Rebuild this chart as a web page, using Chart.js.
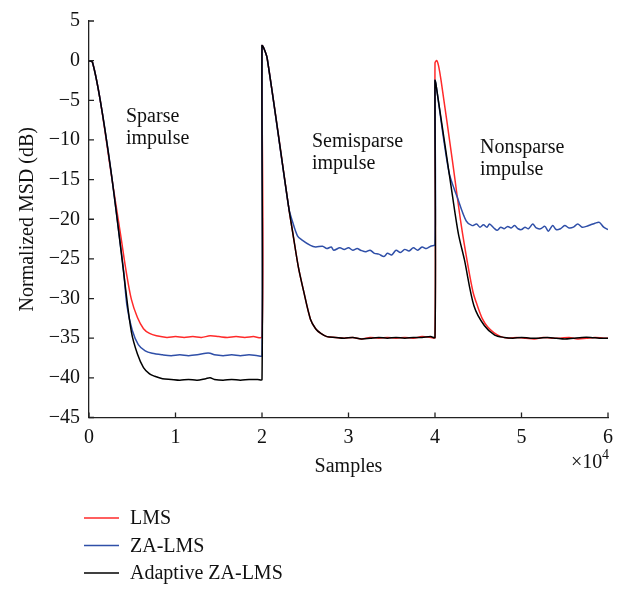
<!DOCTYPE html>
<html>
<head>
<meta charset="utf-8">
<script src="https://cdn.jsdelivr.net/npm/chart.js@4/dist/chart.umd.min.js"></script>
<style>
  body { margin: 0; background: #fff; }
  canvas { display: block; }
</style>
</head>
<body>
<canvas id="msd-chart" width="624" height="590"></canvas>
<script>
// samples are in units of 10^4, MSD in dB
const lmsSamples = [0, 0.04, 0.13, 0.25, 0.37, 0.43, 0.49, 0.56, 0.63, 0.7, 0.78, 0.9, 1.0, 1.1, 1.2, 1.3, 1.4, 1.5, 1.6, 1.7, 1.8, 1.9, 2.0,
    2.0, 2.02, 2.06, 2.31, 2.36, 2.42, 2.48, 2.56, 2.62, 2.68, 2.75, 2.85, 2.95, 3.05, 3.15, 3.25, 3.35, 3.45, 3.55, 3.65, 3.75, 3.85, 3.95, 4.0,
    4.0, 4.02, 4.04, 4.07, 4.2, 4.3, 4.38, 4.44, 4.49, 4.55, 4.61, 4.68, 4.76, 4.85, 4.95, 5.05, 5.15, 5.25, 5.35, 5.45, 5.55, 5.65, 5.75, 5.85, 5.95, 6.0];
const lmsMsd = [0, -0.2, -5, -13.8, -22.3, -26.6, -30.1, -32.4, -33.8, -34.4, -34.7, -34.9, -34.8, -34.9, -34.8, -34.9, -34.7, -34.8, -34.9, -34.8, -34.9, -34.8, -34.8,
    1.9, 1.6, 0.3, -18.6, -22.0, -26.0, -29.0, -32.6, -33.8, -34.4, -34.8, -34.9, -35.0, -34.9, -35.1, -34.9, -35.0, -34.9, -35.0, -34.9, -35.0, -34.8, -34.9, -34.9,
    -0.3, 0, -0.6, -2.5, -12.5, -20.5, -25.8, -29.2, -30.9, -32.6, -33.6, -34.3, -34.8, -35.0, -34.9, -35.0, -35.1, -34.9, -35.0, -35.0, -34.9, -35.1, -35.0, -34.9, -35.0, -35.0];

const zaSamples = [0, 0.04, 0.13, 0.25, 0.36, 0.4, 0.44, 0.5, 0.57, 0.65, 0.73, 0.85, 0.95, 1.05, 1.15, 1.25, 1.35, 1.4, 1.45, 1.55, 1.65, 1.75, 1.85, 1.95, 2.0,
    2.0, 2.02, 2.06, 2.31, 2.35, 2.41, 2.46, 2.56, 2.62, 2.7, 2.75, 2.8, 2.83, 2.9, 2.95, 3.0, 3.05, 3.1, 3.14, 3.2, 3.25, 3.3, 3.35, 3.41, 3.45, 3.5, 3.55, 3.6, 3.65, 3.7, 3.75, 3.8, 3.85, 3.9, 3.95, 4.0,
    4.0, 4.01, 4.16, 4.26, 4.36, 4.43, 4.48, 4.52, 4.56, 4.6, 4.63, 4.68, 4.72, 4.76, 4.8, 4.84, 4.88, 4.92, 4.96, 5.0, 5.04, 5.08, 5.13, 5.17, 5.22, 5.27, 5.31, 5.36, 5.4, 5.45, 5.5, 5.55, 5.6, 5.65, 5.7, 5.75, 5.8, 5.85, 5.9, 5.95, 6.0];
const zaMsd = [0, -0.2, -5, -13.6, -23.0, -26.5, -31.0, -34.0, -35.8, -36.6, -36.9, -37.1, -37.2, -37.1, -37.2, -37.1, -36.9, -36.9, -37.1, -37.2, -37.1, -37.2, -37.1, -37.2, -37.2,
    1.9, 1.6, 0.3, -18.6, -20.2, -22.1, -22.6, -23.3, -23.5, -23.4, -23.7, -23.5, -23.9, -23.6, -23.8, -23.6, -23.9, -23.7, -23.9, -24.1, -23.9, -24.3, -24.4, -24.7, -24.3, -24.5, -23.9, -24.2, -23.8, -24.0, -23.6, -23.9, -23.5, -23.7, -23.4, -23.2,
    -2.5, -2.9, -14.0, -17.3, -20.2, -20.8, -20.6, -21.0, -20.7, -21.0, -20.6, -21.1, -21.4, -21.0, -21.2, -20.9, -21.1, -20.8, -21.2, -21.3, -21.0, -21.2, -20.6, -21.1, -21.2, -20.9, -21.5, -20.8, -21.3, -21.2, -20.8, -21.1, -21.0, -20.6, -21.0, -20.9, -20.7, -20.5, -20.4, -21.0, -21.3];

const adaptiveSamples = [0, 0.04, 0.13, 0.25, 0.36, 0.42, 0.49, 0.56, 0.63, 0.7, 0.76, 0.85, 0.95, 1.05, 1.15, 1.25, 1.35, 1.4, 1.45, 1.55, 1.65, 1.75, 1.85, 1.95, 2.0,
    2.0, 2.02, 2.06, 2.31, 2.36, 2.42, 2.48, 2.56, 2.62, 2.68, 2.75, 2.85, 2.95, 3.05, 3.15, 3.25, 3.35, 3.45, 3.55, 3.65, 3.75, 3.85, 3.95, 4.0,
    4.0, 4.01, 4.2, 4.27, 4.34, 4.45, 4.57, 4.69, 4.8, 4.9, 5.0, 5.1, 5.2, 5.3, 5.4, 5.5, 5.6, 5.7, 5.8, 5.9, 6.0];
const adaptiveMsd = [0, -0.2, -5, -13.6, -23.0, -28.5, -34.2, -37.0, -38.7, -39.5, -39.8, -40.1, -40.2, -40.3, -40.2, -40.3, -40.1, -40.0, -40.2, -40.3, -40.2, -40.3, -40.2, -40.2, -40.2,
    1.9, 1.6, 0.3, -18.6, -22.0, -26.0, -29.0, -32.6, -33.8, -34.4, -34.8, -34.9, -35.0, -34.9, -35.1, -35.0, -34.9, -35.0, -34.9, -35.0, -34.9, -34.9, -34.8, -34.9,
    -2.5, -2.9, -16.9, -21.8, -25.1, -30.9, -33.4, -34.6, -34.9, -35.0, -34.9, -35.0, -35.0, -34.9, -35.0, -35.1, -35.0, -34.9, -34.9, -35.0, -35.0];

const seriesNames = ['LMS', 'ZA-LMS', 'Adaptive ZA-LMS'];
const seriesColors = ['#ff2a2a', '#2f4fa8', '#000000'];
const xTicks = [0, 1, 2, 3, 4, 5, 6];
const yTicks = [5, 0, -5, -10, -15, -20, -25, -30, -35, -40, -45];
const notes = [
    { x: 126, lines: ['Sparse', 'impulse'], y: 122 },
    { x: 312, lines: ['Semisparse', 'impulse'], y: 147 },
    { x: 480, lines: ['Nonsparse', 'impulse'], y: 153 }
];

const FONT = '"Liberation Serif", "DejaVu Serif", serif';

function toPoints(xs, ys) {
    return xs.map((x, i) => ({ x: x, y: ys[i] }));
}

const decor = {
    id: 'decor',
    afterDraw(chart) {
        const ctx = chart.ctx;
        const xs = chart.scales.x;
        const ys = chart.scales.y;
        const area = chart.chartArea;
        ctx.save();
        ctx.strokeStyle = '#222';
        ctx.lineWidth = 1.3;
        // inward tick marks
        ctx.beginPath();
        xTicks.forEach(v => {
            const px = xs.getPixelForValue(v);
            ctx.moveTo(px, area.bottom);
            ctx.lineTo(px, area.bottom - 5);
        });
        yTicks.forEach(v => {
            const py = ys.getPixelForValue(v);
            ctx.moveTo(area.left, py);
            ctx.lineTo(area.left + 5, py);
        });
        ctx.stroke();

        ctx.fillStyle = '#111';
        ctx.textBaseline = 'alphabetic';
        ctx.textAlign = 'left';
        ctx.font = '20px ' + FONT;
        notes.forEach(n => {
            n.lines.forEach((t, i) => ctx.fillText(t, n.x, n.y + i * 22));
        });

        // x10^4 multiplier
        ctx.fillText('\u00d710', 571, 468);
        ctx.font = '14px ' + FONT;
        ctx.fillText('4', 602, 459);

        // legend
        ctx.font = '20px ' + FONT;
        ctx.textBaseline = 'middle';
        chart.data.datasets.forEach((ds, i) => {
            const y = 518 + i * 27.5;
            ctx.strokeStyle = ds.borderColor;
            ctx.lineWidth = 1.5;
            ctx.beginPath();
            ctx.moveTo(84, y);
            ctx.lineTo(119, y);
            ctx.stroke();
            ctx.fillStyle = '#111';
            ctx.fillText(ds.label, 130, y + 1);
        });
        ctx.restore();
    }
};

new Chart(document.getElementById('msd-chart').getContext('2d'), {
    type: 'line',
    data: {
        datasets: [
            { label: seriesNames[0], data: toPoints(lmsSamples, lmsMsd), borderColor: seriesColors[0], order: 3 },
            { label: seriesNames[1], data: toPoints(zaSamples, zaMsd), borderColor: seriesColors[1], order: 2 },
            { label: seriesNames[2], data: toPoints(adaptiveSamples, adaptiveMsd), borderColor: seriesColors[2], order: 1 }
        ]
    },
    options: {
        responsive: false,
        animation: false,
        devicePixelRatio: 1,
        layout: { padding: { left: 0, right: 16, top: 13, bottom: 110 } },
        elements: {
            point: { radius: 0 },
            line: { borderWidth: 1.5, tension: 0.3, fill: false }
        },
        plugins: {
            legend: { display: false },
            tooltip: { enabled: false }
        },
        scales: {
            x: {
                type: 'linear',
                min: 0,
                max: 6,
                afterFit: (scale) => { scale.height = 62.5; },
                grid: { display: false, drawTicks: false },
                border: { display: true, color: '#222', width: 1.3 },
                ticks: {
                    stepSize: 1,
                    padding: 8,
                    color: '#111',
                    font: { family: FONT, size: 20 },
                    maxRotation: 0
                },
                title: {
                    display: true,
                    text: 'Samples',
                    color: '#111',
                    font: { family: FONT, size: 20 },
                    padding: { top: 0, bottom: 1 }
                }
            },
            y: {
                min: -45,
                max: 5,
                afterFit: (scale) => { scale.width = 89; },
                grid: { display: false, drawTicks: false },
                border: { display: true, color: '#222', width: 1.3 },
                ticks: {
                    stepSize: 5,
                    padding: 9,
                    color: '#111',
                    font: { family: FONT, size: 20 },
                    callback: (v) => String(v).replace('-', '\u2212')
                },
                title: {
                    display: true,
                    text: 'Normalized MSD (dB)',
                    color: '#111',
                    font: { family: FONT, size: 20 },
                    padding: { top: 16, bottom: 0 }
                }
            }
        }
    },
    plugins: [decor]
});
</script>
</body>
</html>
